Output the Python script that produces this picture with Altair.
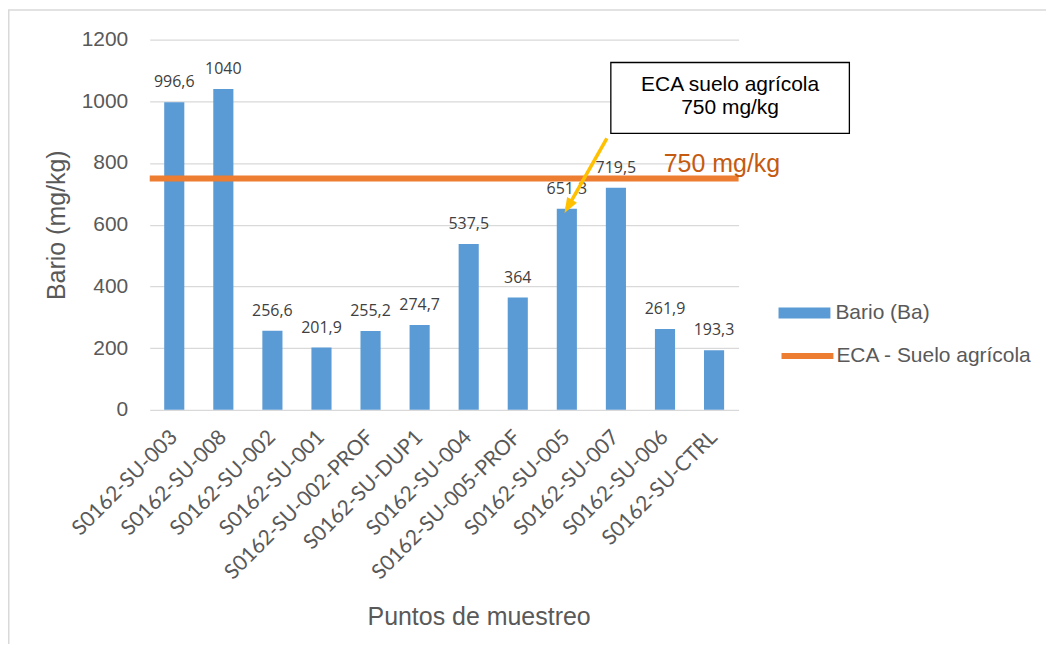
import altair as alt
import pandas as pd

# ---- data ----
puntos = ["S0162-SU-003", "S0162-SU-008", "S0162-SU-002", "S0162-SU-001",
          "S0162-SU-002-PROF", "S0162-SU-DUP1", "S0162-SU-004", "S0162-SU-005-PROF",
          "S0162-SU-005", "S0162-SU-007", "S0162-SU-006", "S0162-SU-CTRL"]
bario = [996.6, 1040, 256.6, 201.9, 255.2, 274.7, 537.5, 364, 651.3, 719.5, 261.9, 193.3]
serie_bario = "Bario (Ba)"
serie_eca = "ECA - Suelo agrícola"
eca_valor = 750
eca_texto = "750 mg/kg"
nota_lineas = ["ECA suelo agrícola", "750 mg/kg"]
nota_punto = "S0162-SU-005"
y_ticks = [0, 200, 400, 600, 800, 1000, 1200]

W, H = 590, 371
GRAY = "#595959"

df_bars = pd.DataFrame({
    "punto": puntos,
    "valor": bario,
    "etiqueta": [f"{v:g}".replace(".", ",") for v in bario],
    "serie": [serie_bario] * len(puntos),
})
df_eca = pd.DataFrame({"serie": [serie_eca], "valor": [eca_valor], "texto": [eca_texto]})
df_nota = pd.DataFrame({"texto": ["\n".join(nota_lineas)]})
df_flecha = pd.DataFrame({"punto": [nota_punto],
                          "valor": [bario[puntos.index(nota_punto)]]})
df_one = pd.DataFrame({"a": [0]})

x_axis = alt.Axis(
    title="Puntos de muestreo", labelAngle=-45, labelAlign="right", labelBaseline="middle",
    labelPadding=24, labelFont="Lato", labelFontSize=21, labelColor=GRAY,
    labelOverlap=False, labelLimit=0, domain=False, ticks=False, grid=False,
    titleFont="Liberation Sans", titleFontSize=25, titleFontWeight="normal",
    titleColor=GRAY, titleX=329.5, titleY=215, titleAlign="center",
    titleBaseline="alphabetic",
)
y_axis = alt.Axis(
    title="Bario (mg/kg)", values=y_ticks, format="d", labelFont="Liberation Sans",
    labelFontSize=21, labelColor=GRAY, labelPadding=22, domain=False, ticks=False,
    grid=True, gridColor="#D9D9D9", gridWidth=1.3,
    titleFont="Liberation Sans", titleFontSize=25, titleFontWeight="normal",
    titleColor=GRAY, titleX=-85, titleY=185.5, titleAlign="center",
    titleBaseline="alphabetic",
)
x_scale = alt.Scale(domain=puntos, paddingInner=0.59, paddingOuter=0.295)
y_scale = alt.Scale(domain=[0, 1200], nice=False)


def X(**kw):
    return alt.X("punto:N", sort=None, scale=x_scale, axis=x_axis, **kw)


def Y():
    return alt.Y("valor:Q", scale=y_scale, axis=y_axis)


border = alt.Chart(df_one).mark_rect(
    fill="white", fillOpacity=0, stroke="#D9D9D9", strokeWidth=1.5
).encode(x=alt.value(-141.25), x2=alt.value(1200), y=alt.value(-29.5), y2=alt.value(900))

bars = alt.Chart(df_bars).mark_bar().encode(
    x=X(), y=Y(),
    color=alt.Color("serie:N",
                    scale=alt.Scale(domain=[serie_bario], range=["#5B9BD5"]),
                    legend=alt.Legend(title=None, orient="none", legendX=630, legendY=248,
                                      padding=0, labelLimit=0,
                                      symbolType="M-1,-0.21H1V0.21H-1Z", symbolSize=2704,
                                      symbolStrokeWidth=0, labelFont="Liberation Sans",
                                      labelFontSize=21, labelColor=GRAY, labelOffset=5)),
)

labels = alt.Chart(df_bars).mark_text(
    font="Open Sans", fontSize=16, color="#404040", baseline="alphabetic", dy=-15
).encode(x=X(), y=Y(), text="etiqueta:N")

rule = alt.Chart(df_eca).mark_rule(strokeWidth=6).encode(
    y=Y(),
    stroke=alt.Stroke("serie:N",
                      scale=alt.Scale(domain=[serie_eca], range=["#ED7D31"]),
                      legend=alt.Legend(title=None, orient="none", legendX=630, legendY=288,
                                        padding=0, labelLimit=0,
                                        symbolType="stroke", symbolSize=2704,
                                        symbolStrokeWidth=6, labelFont="Liberation Sans",
                                        labelFontSize=21, labelColor=GRAY, labelOffset=0)),
)

eca_text = alt.Chart(df_eca).mark_text(
    align="left", baseline="alphabetic", dy=-6, font="Liberation Sans", fontSize=25,
    color="#C55A11"
).encode(y=Y(), x=alt.value(515), text="texto:N")

box = alt.Chart(df_one).mark_rect(fill="white", stroke="black", strokeWidth=1.3).encode(
    x=alt.value(462), x2=alt.value(701), y=alt.value(23), y2=alt.value(94)
)

box_text = alt.Chart(df_nota).mark_text(
    align="center", baseline="middle", lineBreak="\n", lineHeight=23,
    font="Liberation Sans", fontSize=21, color="black"
).encode(x=alt.value(581.5), y=alt.value(46), text="texto:N")

arrow = alt.Chart(df_flecha).mark_rule(color="#FFC000", strokeWidth=3.5).encode(
    x=X(bandPosition=0.5), y=Y(), x2=alt.value(458), y2=alt.value(99)
)

head = alt.Chart(df_flecha).mark_point(
    shape="M0,-0.5L-0.6,1.1L0.6,1.1Z", size=361, filled=True, color="#FFC000",
    opacity=1, strokeWidth=0, angle=210
).encode(x=X(bandPosition=0.5), y=Y())

chart = alt.layer(border, bars, labels, rule, eca_text, box, box_text, arrow, head).properties(
    width=W, height=H,
    autosize=alt.AutoSizeParams(type="none"),
    padding={"left": 142, "top": 31, "right": 308, "bottom": 234},
    background="white",
).configure_view(stroke=None)

chart.save("out.html", embed_options={"renderer": "svg", "actions": False})
